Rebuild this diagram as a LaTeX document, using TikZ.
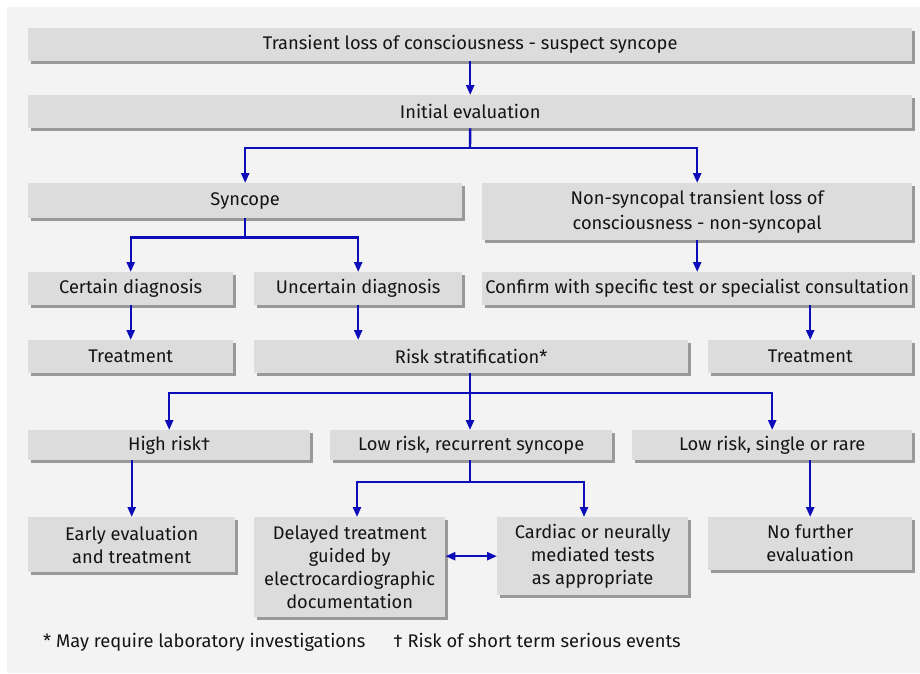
\documentclass[tikz,border=0pt]{standalone}
\usepackage{fontspec}
\setmainfont{Fira Sans}
\usetikzlibrary{arrows.meta,shadows,calc}
\definecolor{bgc}{HTML}{F3F3F3}
\definecolor{boxc}{HTML}{DCDCDC}
\definecolor{shc}{HTML}{999999}
\definecolor{arrc}{HTML}{0C0CB8}
\definecolor{txtc}{HTML}{141414}
\begin{document}
\begin{tikzpicture}[x=1pt,y=-1pt,
  box/.style={fill=boxc, draw=none, anchor=north west, inner sep=0pt, align=center,
    text=txtc, font=\fontsize{18.3}{23}\selectfont,
    drop shadow={shadow xshift=2.5pt, shadow yshift=-2.5pt, fill=shc, opacity=1}},
  arr/.style={draw=arrc, line width=2.4pt, -{Triangle[length=10pt,width=8pt]}},
  dbl/.style={draw=arrc, line width=2.4pt, {Triangle[length=10pt,width=8pt]}-{Triangle[length=10pt,width=8pt]}},
  ln/.style={draw=arrc, line width=2.4pt}]
\useasboundingbox (0,0) rectangle (920,673);
\fill[white] (0,0) rectangle (920,673);
\fill[bgc] (7,7) rectangle (920,673);

\node[box, minimum width=884pt, minimum height=33pt] (top) at (28,28) {Transient loss of consciousness - suspect syncope};
\node[box, minimum width=884pt, minimum height=33pt] (init) at (28,95) {Initial evaluation};
\node[box, minimum width=434pt, minimum height=35pt] (sync) at (28,183) {Syncope};
\node[box, minimum width=430pt, minimum height=57pt, font=\fontsize{18.3}{25}\selectfont] (nonsync) at (482,183) {Non-syncopal transient loss of\\consciousness - non-syncopal};
\node[box, minimum width=205pt, minimum height=33pt] (cert) at (28,272) {Certain diagnosis};
\node[box, minimum width=208pt, minimum height=33pt] (uncert) at (254,272) {Uncertain diagnosis};
\node[box, minimum width=430pt, minimum height=33pt] (conf) at (482,272) {Confirm with specific test or specialist consultation};
\node[box, minimum width=205pt, minimum height=33pt] (treat1) at (28,340) {Treatment};
\node[box, minimum width=434pt, minimum height=33pt] (risk) at (254,340) {Risk stratification*};
\node[box, minimum width=204pt, minimum height=33pt] (treat2) at (708,340) {Treatment};
\node[box, minimum width=282pt, minimum height=30pt] (high) at (28,430) {High risk†};
\node[box, minimum width=282pt, minimum height=30pt] (lowrec) at (330,430) {Low risk, recurrent syncope};
\node[box, minimum width=280pt, minimum height=30pt] (lowsing) at (632,430) {Low risk, single or rare};
\node[box, minimum width=207pt, minimum height=55pt] (early) at (28,517) {Early evaluation\\and treatment};
\node[box, minimum width=191pt, minimum height=100pt] (delay) at (254,517) {Delayed treatment\\guided by\\electrocardiographic\\documentation};
\node[box, minimum width=191pt, minimum height=78pt] (card) at (497,517) {Cardiac or neurally\\mediated tests\\as appropriate};
\node[box, minimum width=204pt, minimum height=53pt] (nofur) at (708,517) {No further\\evaluation};

\node[anchor=west, inner sep=0pt, text=txtc, font=\fontsize{18.3}{23}\selectfont] (foot) at (43,642) {* May require laboratory investigations\hspace{28pt}† Risk of short term serious events};

% connectors
\draw[arr] (top.south) -- (init.north);
\coordinate (b1) at (470,148);
\draw[ln] (init.south) -- (b1);
\draw[arr] (b1) -| (sync.north);
\draw[arr] (b1) -| (nonsync.north);

\coordinate (b2) at ($(sync.south)+(0,19)$);
\draw[ln] (sync.south) -- (b2);
\draw[arr] (b2) -| (cert.north);
\draw[arr] (b2) -| (uncert.north);

\draw[arr] (cert.south) -- (treat1.north);
\draw[arr] (uncert.south) -- (uncert.south |- risk.north);
\draw[arr] (nonsync.south) -- (conf.north);
\draw[arr] (treat2.north |- conf.south) -- (treat2.north);

\coordinate (b3) at (470,393);
\draw[ln] (risk.south -| b3) -- (b3);
\draw[arr] (b3) -| (high.north);
\draw[arr] (b3) -- (lowrec.north -| b3);
\draw[arr] (b3) -| (lowsing.north);

\draw[arr] (early.north |- high.south) -- (early.north);
\coordinate (b4) at (470,482);
\coordinate (dtop) at (357,517);
\coordinate (ctop) at (584,517);
\draw[ln] (lowrec.south -| b4) -- (b4);
\draw[arr] (b4) -| (dtop);
\draw[arr] (b4) -| (ctop);
\draw[arr] (nofur.north |- lowsing.south) -- (nofur.north);
\draw[dbl] (delay.east |- card.west) -- (card.west);
\end{tikzpicture}
\end{document}
